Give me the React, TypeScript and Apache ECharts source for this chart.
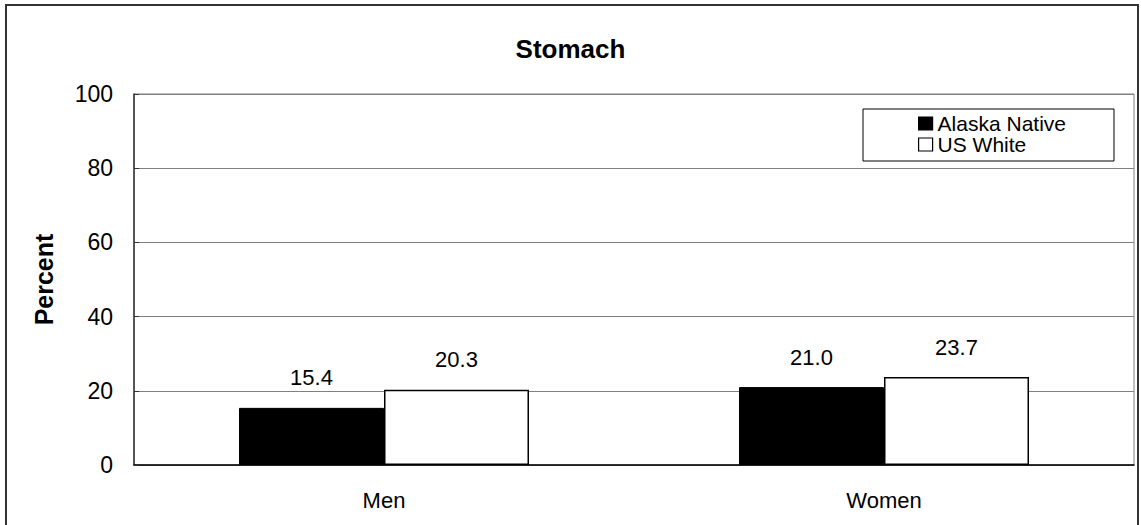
import React, { useEffect, useRef } from "react";
import * as echarts from "echarts";

const categories = ["Men", "Women"];
const alaskaNative = [15.4, 21.0];
const usWhite = [20.3, 23.7];
const seriesNames = ["Alaska Native", "US White"];

const FONT = "Liberation Sans, Arial, sans-serif";

export default function App() {
  const ref = useRef<HTMLDivElement>(null);
  useEffect(() => {
    if (!ref.current) return;
    const chart = echarts.init(ref.current, undefined, { renderer: "svg" });
    const label = {
      show: true,
      position: "top" as const,
      distance: 19,
      fontFamily: FONT,
      fontSize: 22,
      color: "#000",
      formatter: (p: any) => Number(p.value).toFixed(1),
    };
    chart.setOption({
      animation: false,
      backgroundColor: "#fff",
      textStyle: { fontFamily: FONT },
      title: {
        text: "Stomach",
        left: "center",
        top: 31,
        textStyle: { fontFamily: FONT, fontSize: 26, fontWeight: "bold", color: "#000" },
      },
      legend: {
        orient: "vertical",
        left: 863,
        top: 109,
        padding: [4, 48, 6, 55],
        borderColor: "#000",
        borderWidth: 1,
        itemWidth: 14,
        itemHeight: 13,
        itemGap: 0,
        itemStyle: { borderColor: "#000", borderWidth: 1.2 },
        textStyle: { fontFamily: FONT, fontSize: 21, lineHeight: 20, color: "#000" },
        data: seriesNames.map((n) => ({ name: n, icon: "rect" })),
      },
      grid: {
        left: 134,
        right: 7,
        top: 94,
        bottom: 60,
        show: true,
        borderColor: "#808080",
        borderWidth: 1,
      },
      xAxis: {
        type: "category",
        data: categories,
        axisLine: { lineStyle: { color: "#000", width: 1.5 } },
        axisTick: { show: false },
        axisLabel: { fontFamily: FONT, fontSize: 22, color: "#000", margin: 24 },
      },
      yAxis: {
        type: "value",
        min: 0,
        max: 100,
        interval: 20,
        name: "Percent",
        nameLocation: "middle",
        nameGap: 78,
        nameTextStyle: { fontFamily: FONT, fontSize: 25, fontWeight: "bold", color: "#000" },
        axisLine: { show: true, lineStyle: { color: "#333", width: 1.5 } },
        axisTick: { show: true, inside: true, length: 5, lineStyle: { color: "#333" } },
        axisLabel: { fontFamily: FONT, fontSize: 23, color: "#000", margin: 21 },
        splitLine: { show: true, lineStyle: { color: "#808080", width: 1 } },
      },
      series: [
        {
          name: seriesNames[0],
          type: "bar",
          data: alaskaNative,
          barGap: "0%",
          barCategoryGap: "42%",
          itemStyle: { color: "#000", borderColor: "#000", borderWidth: 1 },
          label,
        },
        {
          name: seriesNames[1],
          type: "bar",
          data: usWhite,
          barGap: "0%",
          barCategoryGap: "42%",
          itemStyle: { color: "#fff", borderColor: "#000", borderWidth: 1.5 },
          label,
        },
      ],
      graphic: [
        {
          type: "rect",
          shape: { x: 6, y: 5, width: 1132, height: 540 },
          style: { fill: "none", stroke: "#333", lineWidth: 2 },
          silent: true,
          z: 100,
        },
      ],
    });
    return () => chart.dispose();
  }, []);
  return (
    <div
      ref={ref}
      style={{ position: "fixed", left: 0, top: 0, width: 1141, height: 525 }}
    />
  );
}
